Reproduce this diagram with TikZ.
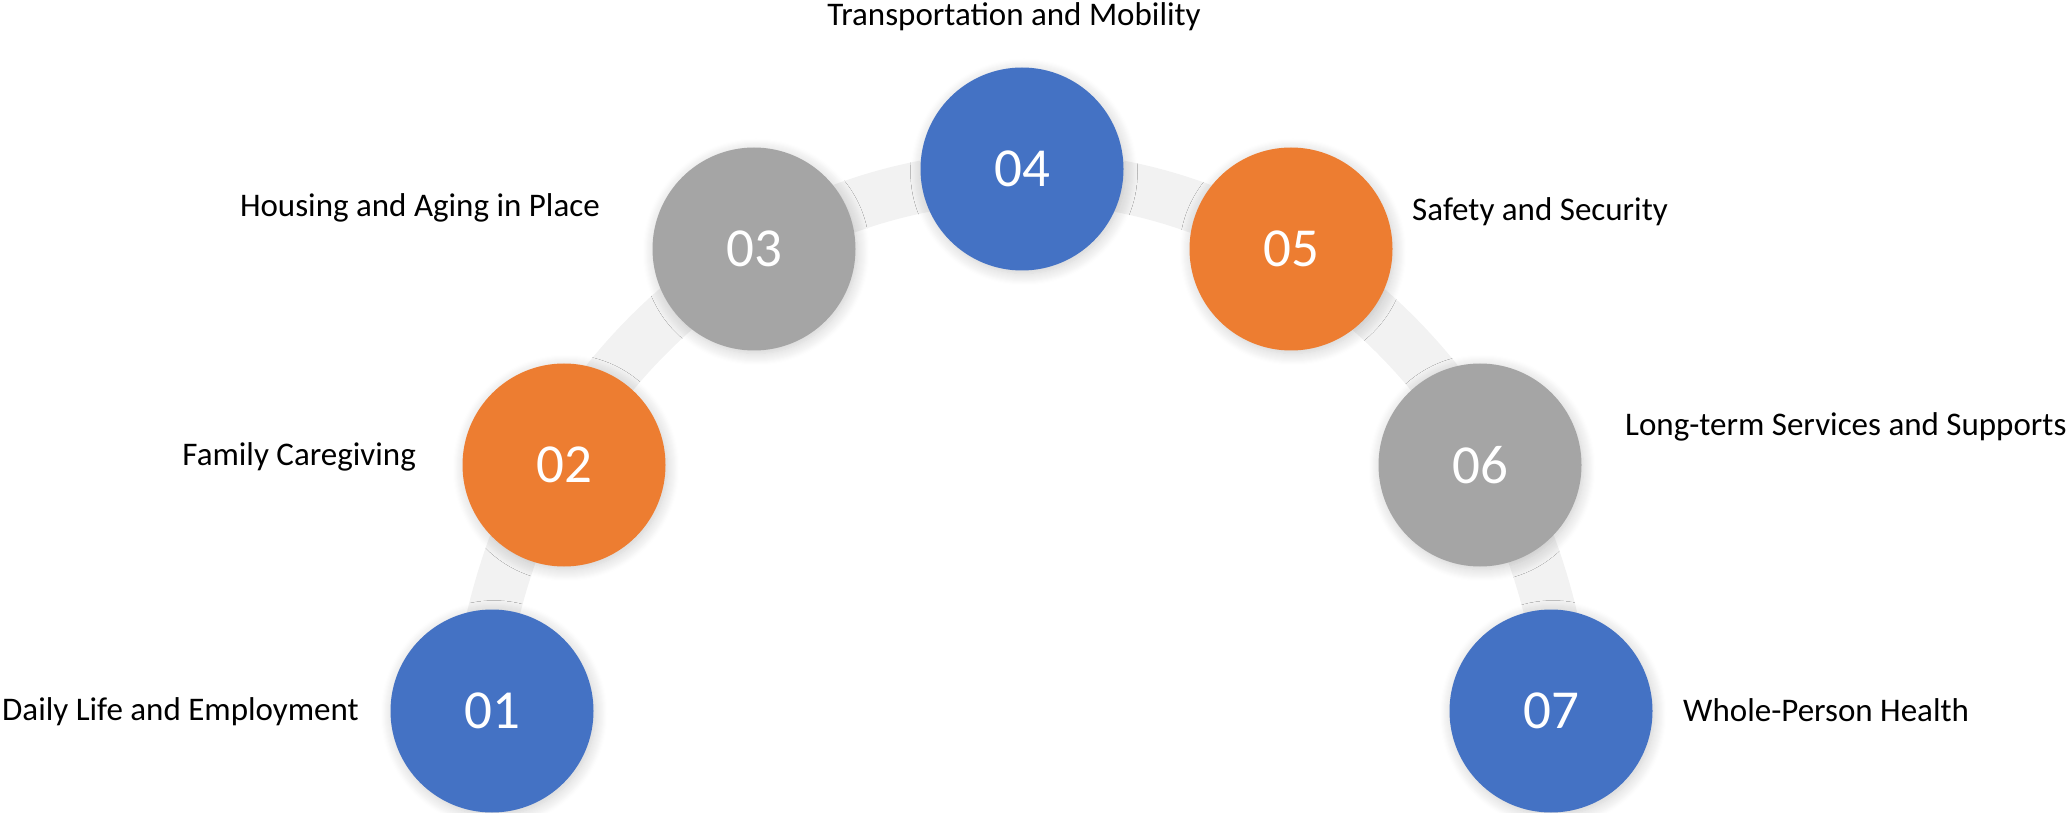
\documentclass[tikz,border=0pt]{standalone}
\usepackage{fontspec}
\setmainfont{Carlito}
\usetikzlibrary{shadows.blur}
\definecolor{blueOne}{HTML}{4472C4}
\definecolor{orangeOne}{HTML}{ED7D31}
\definecolor{grayOne}{HTML}{A5A5A5}
\definecolor{bandGray}{HTML}{F2F2F2}
\begin{document}
\begin{tikzpicture}[x=1pt, y=1pt,
	bubble/.style={circle, minimum size=203pt, inner sep=0pt, text=white,
		font=\fontsize{55}{60}\selectfont,
		blur shadow={shadow xshift=2pt, shadow yshift=-3pt, shadow blur radius=12pt,
			shadow opacity=20, shadow blur steps=12}},
	lbl/.style={inner sep=0pt, font=\fontsize{33}{38}\selectfont},
	band/.style={draw=bandGray, line width=52pt}]
		
		\useasboundingbox (0,0) rectangle (2066,812);
		
		% the grey arch behind the circles
		\coordinate (archstart) at (476,52);
		\draw[band] (archstart) arc[start angle=180, end angle=0, x radius=546, y radius=583];
		
		\node[bubble, fill=blueOne] (c01) at (492,101) {01};
		\node[bubble, fill=orangeOne] (c02) at (564,347) {02};
		\node[bubble, fill=grayOne] (c03) at (754,563) {03};
		\node[bubble, fill=blueOne] (c04) at (1022,643) {04};
		\node[bubble, fill=orangeOne] (c05) at (1291,563) {05};
		\node[bubble, fill=grayOne] (c06) at (1480,347) {06};
		\node[bubble, fill=blueOne] (c07) at (1551,101) {07};
		
		\node[lbl, anchor=base west] (l01) at (2,92) {Daily Life and Employment};
		\node[lbl, anchor=base east] (l02) at (416,346) {Family Caregiving};
		\node[lbl, anchor=base east] (l03) at (600,595) {Housing and Aging in Place};
		\node[lbl, anchor=base] (l04) at (1014,786) {Transportation and Mobility};
		\node[lbl, anchor=base west] (l05) at (1412,591) {Safety and Security};
		\node[lbl, anchor=base west] (l06) at (1625,376) {Long-term Services and Supports};
		\node[lbl, anchor=base west] (l07) at (1683,91) {Whole-Person Health};
		
		\end{tikzpicture}
\end{document}
